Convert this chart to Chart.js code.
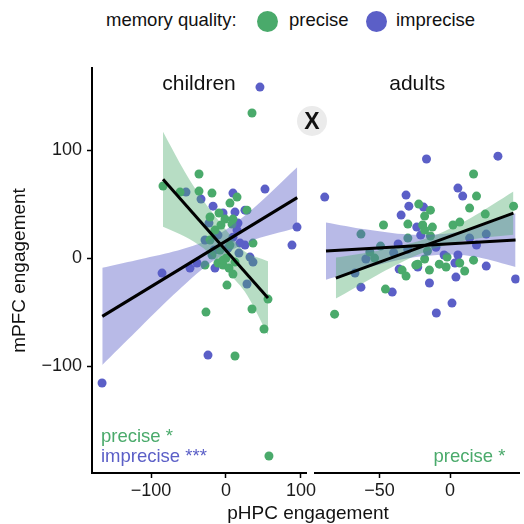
<!DOCTYPE html>
<html>
<head>
<meta charset="utf-8">
<script src="https://cdn.jsdelivr.net/npm/chart.js@4.4.1/dist/chart.umd.min.js"></script>
<style>
body { margin: 0; background: #fff; width: 524px; height: 524px; position: relative; overflow: hidden;
       font-family: "Liberation Sans", Arial, sans-serif; color: #111; }
canvas { position: absolute; top: 0; }
#left { left: 0; }
#right { left: 300px; }
.txt { position: absolute; font-size: 18.5px; line-height: 22px; white-space: nowrap; }
.dot { position: absolute; width: 21px; height: 21px; border-radius: 50%; }
#xmark { position: absolute; left: 297px; top: 106px; width: 30px; height: 30px; border-radius: 50%;
         background: #ebebeb; font-weight: bold; font-size: 23px; line-height: 30px; text-align: center; }
#xtitle { position: absolute; left: 0; width: 616px; top: 502px; text-align: center; font-size: 19px; line-height: 22px; }
</style>
</head>
<body>
<div class="txt" style="left:106px;top:9px">memory quality:</div>
<div class="dot" style="left:257px;top:11px;background:#4aaa6b"></div>
<div class="txt" style="left:289px;top:9px">precise</div>
<div class="dot" style="left:366px;top:11px;background:#5b5fc7"></div>
<div class="txt" style="left:396px;top:9px">imprecise</div>

<canvas id="left" width="330" height="524"></canvas>
<canvas id="right" width="224" height="524"></canvas>
<div id="xmark">X</div>
<div id="xtitle">pHPC engagement</div>

<script>
const GREEN = "#4aaa6b";
const BLUE = "#5b5fc7";
const GREEN_BAND = "rgba(74, 170, 107, 0.4)";
const BLUE_BAND = "rgba(91, 95, 199, 0.43)";

// tick labels
const yTicks = [-100, 0, 100];
const childXTicks = [-100, 0, 100];
const adultXTicks = [-50, 0];

// children, precise memories: [pHPC, mPFC]
const childPrecise = [
    [34.7, 134.3], [-84, 66.7], [-36, 77.8], [-61.3, 61.1], [-36, 62], [-18.7, 60.2], [14.7, 56.5],
    [5.3, 50.9], [28, 44.4], [-9.3, 41.7], [-21.3, 38], [-1.3, 36.1], [9.3, 36.1], [-6.7, 30.6],
    [8, 31.5], [-14.7, 25.9], [36, 13.9], [-28, -6.5], [-10.7, -4.6], [-4, -6.5], [4, -9.3],
    [9.3, -14.8], [1.3, -25], [56, -38], [34.7, -47.2], [-26.7, -50], [50.7, -65.7], [12, -90.7],
    [57.3, -183.3], [-21.3, 16.7], [-8, 7.4], [0, 0], [5.3, 12], [-18.7, 2.8], [12, -3.7], [-4, -1.9],
];
// children, imprecise memories
const childImprecise = [
    [45.3, 158.3], [-53.3, 61.1], [-33.3, 54.6], [9.3, 60.2], [52, 63.9], [-17.3, 48.1], [12, 42.6],
    [25.3, 44.4], [-4, 41.7], [16, 32.4], [-22.7, 32.4], [14.7, 25.9], [9.3, 19.4], [25.3, 12],
    [94.7, 28.7], [88, 12], [-85.3, -13.9], [-48, -9.3], [-38.7, -4.6], [-14.7, -9.3], [36, -3.7],
    [32, 0.9], [17.3, 4.6], [28, -24], [-24, -89.8], [-165.3, -115.7], [-28, 16.7], [-10.7, 21.3],
    [2.7, 9.3], [-16, 7.4], [18.7, 13.9],
];
// adults, precise memories
const adultPrecise = [
    [16.7, 77.8], [18.8, 57.4], [-22.2, 50], [-13.9, 44.4], [13.9, 46.3], [-18, 38.9], [25, 40.7],
    [45.1, 48.1], [-47.2, 30.6], [-29.9, 31.5], [-19.4, 30.6], [-12.5, 28.7], [2.1, 30.6], [6.9, 33.3],
    [-18, 25.9], [-13.9, 20.4], [-63.2, 22.2], [-29.9, 18.5], [-49.3, 11.1], [-56.9, 5.6], [-53.5, 0],
    [-45.8, -28.7], [-81.9, -51.9], [-34, -11.1], [-31.2, -16.7], [-24.3, -6.5], [-22.9, -5.6],
    [-18, -0.9], [-16, 6.5], [-14.6, -11.1], [-2.1, 0.9], [-7.6, -5.6], [-2.8, -8.3], [6.9, -4.6],
    [16.7, -1.9], [10.4, -12],
];
// adults, imprecise memories
const adultImprecise = [
    [-88.9, 56.5], [-16.7, 91.7], [34, 94.4], [5.6, 64.8], [9, 57.4], [-31.2, 58.3], [-29.2, 48.1],
    [-18.8, 47.2], [-34.7, 39.8], [-23.6, 28.7], [-20.8, 21.3], [13.9, 18.5], [25.7, 22.2], [18.8, 12],
    [-36.8, 13], [-59.7, -0.9], [-67.4, -13.9], [-63.2, -26.9], [-41, -31.5], [-36.1, -10.2],
    [-22.9, -8.3], [-4.2, 2.8], [5.6, 2.8], [3.5, -4.6], [25.7, -7.4], [4.2, -17.6], [-14.6, -23.1],
    [46.5, -19.4], [1.4, -41.7], [-9.7, -50.9], [-40, 5], [-30, 8], [-10, 10],
];

// regression fits (end points) and confidence bands
const childPreciseFit = [[-84, 73], [56, -37]];
const childPreciseBandX = [-84, -55, -30, -2, 25, 56];
const childPreciseUpper = [117, 80, 53, 28, 6, -3];
const childPreciseLower = [29, 20, 9, -10, -31, -71];

const childImpreciseFit = [[-165, -54], [95, 56]];
const childImpreciseBandX = [-165, -120, -70, -20, 30, 95];
const childImpreciseUpper = [-9, -2, 6, 18, 42, 84];
const childImpreciseLower = [-99, -68, -34, -4, 15, 28];

const adultImpreciseFit = [[-88, 6.5], [46.5, 16.7]];
const adultImpreciseBandX = [-88, -60, -30, 0, 20, 46.5];
const adultImpreciseUpper = [33, 26.6, 21.8, 23, 28.7, 41.5];
const adultImpreciseLower = [-20, -9.4, -0.2, 3.2, 0.7, -8.3];

const adultPreciseFit = [[-81, -18.5], [45, 41.7]];
const adultPreciseBandX = [-81, -55, -30, -10, 15, 45];
const adultPreciseUpper = [0.5, 5.9, 12.9, 21.4, 37.4, 61.7];
const adultPreciseLower = [-37.5, -18.1, -1.1, 9.4, 17.4, 21.7];

Chart.defaults.font.family = '"Liberation Sans", Arial, sans-serif';
Chart.defaults.color = "#1a1a1a";

const toPts = (pairs) => pairs.map(([x, y]) => ({ x, y }));
const zipPts = (xs, ys) => xs.map((x, i) => ({ x, y: ys[i] }));
const minus = (v) => (v < 0 ? "\u2212" + Math.abs(v) : String(v));

function groupDatasets(points, color, fit, bandX, upper, lower, bandColor) {
    return [
        { type: "scatter", data: toPts(points), backgroundColor: color, pointRadius: 4.5,
          pointBorderWidth: 0, order: 3 },
        { type: "line", data: zipPts(bandX, upper), borderWidth: 0, pointRadius: 0,
          backgroundColor: bandColor, fill: "+1", tension: 0.3, order: 2 },
        { type: "line", data: zipPts(bandX, lower), borderWidth: 0, pointRadius: 0,
          backgroundColor: bandColor, fill: false, tension: 0.3, order: 2 },
        { type: "line", data: toPts(fit), borderColor: "#000", borderWidth: 3, pointRadius: 0,
          fill: false, order: 1 },
    ];
}

// panel title and significance notes, drawn inside the plot area
const panelText = {
    id: "panelText",
    afterDatasetsDraw(chart, args, opts) {
        const { ctx, chartArea } = chart;
        ctx.save();
        ctx.textBaseline = "middle";
        ctx.font = '21px "Liberation Sans", Arial, sans-serif';
        ctx.fillStyle = "#111";
        ctx.textAlign = "center";
        ctx.fillText(opts.title, (chartArea.left + chartArea.right) / 2, chartArea.top + 16);
        ctx.font = '18.5px "Liberation Sans", Arial, sans-serif';
        opts.notes.forEach((n) => {
            ctx.fillStyle = n.color;
            ctx.textAlign = n.align;
            const x = n.align === "left" ? chartArea.left + n.dx : chartArea.right - n.dx;
            ctx.fillText(n.text, x, chartArea.bottom - n.dy);
        });
        ctx.restore();
    },
};

function xScale(min, max, ticks) {
    return {
        type: "linear", min: min, max: max,
        afterBuildTicks: (s) => { s.ticks = ticks.map((value) => ({ value })); },
        afterFit: (s) => { s.height = 51; },
        ticks: { font: { size: 18 }, padding: 2, callback: minus, maxRotation: 0, color: "#1a1a1a" },
        grid: { drawOnChartArea: false, drawTicks: true, tickLength: 5, tickColor: "#000", tickWidth: 1.5 },
        border: { display: true, color: "#000", width: 2 },
    };
}

const yRange = { min: -199, max: 176 };

new Chart(document.getElementById("left"), {
    type: "scatter",
    data: {
        datasets: [
            ...groupDatasets(childPrecise, GREEN, childPreciseFit, childPreciseBandX,
                childPreciseUpper, childPreciseLower, GREEN_BAND),
            ...groupDatasets(childImprecise, BLUE, childImpreciseFit, childImpreciseBandX,
                childImpreciseUpper, childImpreciseLower, BLUE_BAND),
        ],
    },
    options: {
        responsive: false, animation: false, devicePixelRatio: 1,
        layout: { padding: { top: 68, right: 24, left: 0, bottom: 0 } },
        scales: {
            x: xScale(-178.7, 106.7, childXTicks),
            y: {
                type: "linear", min: yRange.min, max: yRange.max,
                afterBuildTicks: (s) => { s.ticks = yTicks.map((value) => ({ value })); },
                afterFit: (s) => { s.width = 92; },
                ticks: { font: { size: 18 }, padding: 5, callback: minus, color: "#1a1a1a" },
                grid: { drawOnChartArea: false, drawTicks: true, tickLength: 5, tickColor: "#000", tickWidth: 1.5 },
                border: { display: true, color: "#000", width: 2 },
                title: { display: true, text: "mPFC engagement", font: { size: 19 }, color: "#111",
                         padding: { top: 8, bottom: 0 } },
            },
        },
        plugins: {
            legend: { display: false },
            tooltip: { enabled: false },
            panelText: {
                title: "children",
                notes: [
                    { text: "precise *", color: GREEN, align: "left", dx: 9, dy: 36 },
                    { text: "imprecise ***", color: BLUE, align: "left", dx: 9, dy: 16 },
                ],
            },
        },
    },
    plugins: [panelText],
});

new Chart(document.getElementById("right"), {
    type: "scatter",
    data: {
        datasets: [
            ...groupDatasets(adultPrecise, GREEN, adultPreciseFit, adultPreciseBandX,
                adultPreciseUpper, adultPreciseLower, GREEN_BAND),
            ...groupDatasets(adultImprecise, BLUE, adultImpreciseFit, adultImpreciseBandX,
                adultImpreciseUpper, adultImpreciseLower, BLUE_BAND),
        ],
    },
    options: {
        responsive: false, animation: false, devicePixelRatio: 1,
        layout: { padding: { top: 68, right: 0, left: 15, bottom: 0 } },
        scales: {
            x: xScale(-95.8, 49.3, adultXTicks),
            y: { type: "linear", min: yRange.min, max: yRange.max, display: false },
        },
        plugins: {
            legend: { display: false },
            tooltip: { enabled: false },
            panelText: {
                title: "adults",
                notes: [{ text: "precise *", color: GREEN, align: "right", dx: 14, dy: 16 }],
            },
        },
    },
    plugins: [panelText],
});
</script>
</body>
</html>
